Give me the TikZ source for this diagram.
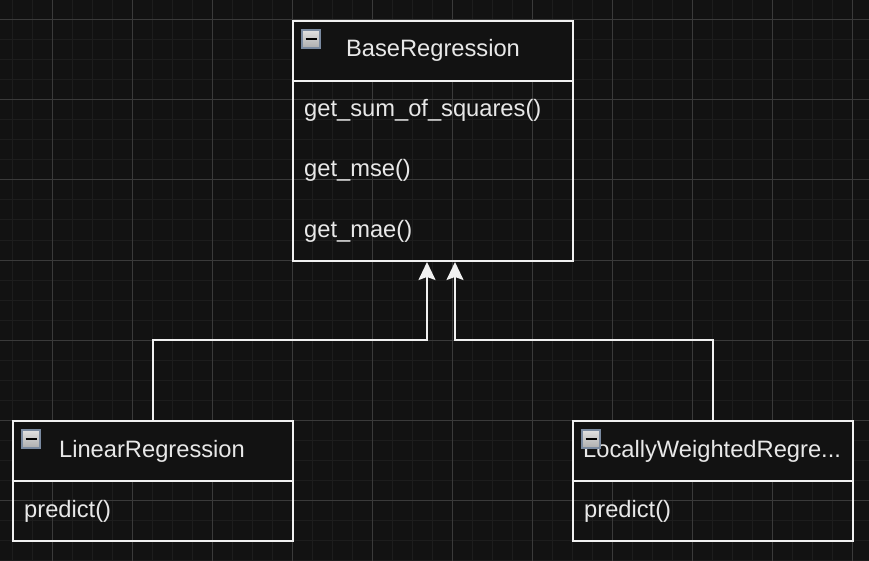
\documentclass[tikz,border=0pt]{standalone}
\usepackage{fontspec}
\setmainfont{Liberation Sans}
\usetikzlibrary{arrows.meta}
\definecolor{bg}{HTML}{121212}
\definecolor{gridminor}{HTML}{1D1D1D}
\definecolor{gridmajor}{HTML}{3A3A3A}
\definecolor{stroke}{HTML}{F0F0F0}
\definecolor{txt}{HTML}{E8E8E8}
\definecolor{iconborder}{HTML}{7A8AA0}
\tikzset{
  minorline/.style={draw=gridminor, line width=1pt},
  majorline/.style={draw=gridmajor, line width=1pt},
  header/.style={draw=stroke, fill=bg, line width=2pt, minimum width=280pt, minimum height=60pt, inner sep=0pt},
  body/.style={draw=stroke, line width=2pt, minimum width=280pt, inner sep=0pt},
  lbl/.style={text=txt, inner sep=0pt, font=\fontsize{23.7}{28}\selectfont},
  icon/.style={draw=iconborder, line width=1.5pt, top color=white!88!black, bottom color=white!68!black, minimum size=18pt, inner sep=0pt},
  conn/.style={draw=stroke, line width=2pt, -{Stealth[length=18pt, width=17pt, inset=3pt, fill=stroke]}}
}
\begin{document}
\begin{tikzpicture}[x=1pt, y=-1pt]
\fill[bg] (0,0) rectangle (869,561);
\useasboundingbox (0,0) rectangle (869,561);
% grid
\foreach \x in {12,32,...,852} \draw[minorline] (\x,0) -- (\x,561);
\foreach \y in {0,20,...,560} \draw[minorline] (0,\y) -- (869,\y);
\foreach \x in {52,132,...,852} \draw[majorline] (\x,0) -- (\x,561);
\foreach \y in {20,100,...,500} \draw[majorline] (0,\y) -- (869,\y);

% BaseRegression
\node[header] (basehead) at (433,51) {};
\node[body, minimum height=180pt] (basebody) at (433,171) {};
\node[lbl, anchor=base] (basetitle) at (433,57) {BaseRegression};
\node[lbl, anchor=base west] (m1) at (304,117) {get\_sum\_of\_squares()};
\node[lbl, anchor=base west] (m2) at (304,177) {get\_mse()};
\node[lbl, anchor=base west] (m3) at (304,237) {get\_mae()};
\node[icon] (baseicon) at (311,39) {};
\draw[black, line width=2pt] ([xshift=-5.5pt]baseicon.center) -- ([xshift=5.5pt]baseicon.center);

% LinearRegression
\node[header] (linhead) at (153,451) {};
\node[body, minimum height=60pt] (linbody) at (153,511) {};
\node[lbl, anchor=base] (lintitle) at (152,457) {LinearRegression};
\node[lbl, anchor=base west] (linm1) at (24,517) {predict()};
\node[icon] (linicon) at (31,439) {};
\draw[black, line width=2pt] ([xshift=-5.5pt]linicon.center) -- ([xshift=5.5pt]linicon.center);

% LocallyWeightedRegression
\node[header] (lochead) at (713,451) {};
\node[body, minimum height=60pt] (locbody) at (713,511) {};
\node[lbl, anchor=base west] (loctitle) at (583,457) {LocallyWeightedRegre...};
\node[lbl, anchor=base west] (locm1) at (584,517) {predict()};
\node[icon] (locicon) at (591,439) {};
\draw[black, line width=2pt] ([xshift=-5.5pt]locicon.center) -- ([xshift=5.5pt]locicon.center);

% connectors
\draw[conn] (linhead.north) -- ++(0,-80) -| ([xshift=-6pt]basebody.south);
\draw[conn] (lochead.north) -- ++(0,-80) -| ([xshift=22pt]basebody.south);
\end{tikzpicture}
\end{document}
